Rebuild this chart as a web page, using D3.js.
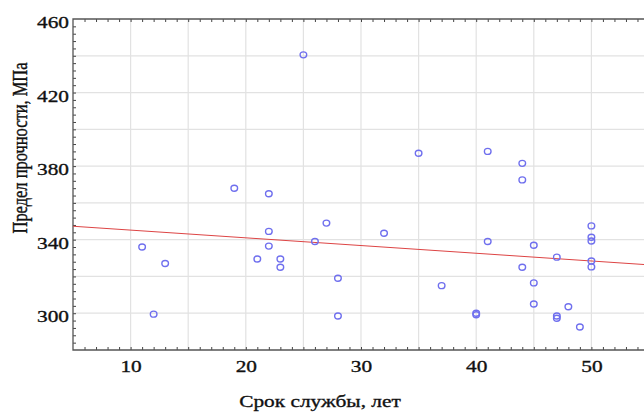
<!DOCTYPE html>
<html>
<head>
<meta charset="utf-8">
<script src="https://cdn.jsdelivr.net/npm/d3@7"></script>
<style>
    body { margin: 0; background: #fff; }
    text { font-family: "Liberation Serif", "DejaVu Serif", serif; fill: #111; stroke: #111; stroke-width: 0.35px; }
</style>
</head>
<body>
<div id="chart"></div>
<script>
// Service life, years
const years = [11, 13, 12, 19, 22, 25, 35, 22, 22, 21, 23, 23, 26, 27, 28, 28, 32,
    41, 44, 44, 37, 40, 40, 41, 44, 45, 45, 45, 47, 47, 47, 48, 49, 50, 50, 50, 50, 50];
// Ultimate strength, MPa
const strength = [336, 327, 299.5, 368, 365, 440.5, 387, 344.5, 336.5, 329.5, 329.5, 325, 339, 349, 319, 298.5, 343.5,
    388, 381.5, 372.5, 315, 299.2, 300, 339, 325, 337, 316.5, 305, 330.5, 298.5, 297.3, 303.5, 292.5, 347.5, 341.3, 339.3, 328.4, 325.2];
// Fitted trend line, read at the plot edges
const trendX = [5, 55];
const trendY = [347.3, 326.3];

const yTicks = [300, 340, 380, 420, 460];
const xTicks = [10, 20, 30, 40, 50];

const W = 644, H = 412;
const margin = { left: 73, top: 19, bottom: 62 };
// the source picture is stretched sideways, so text is too
const stretch = 1.22;

const svg = d3.select('#chart').append('svg')
    .attr('width', W)
    .attr('height', H);

const x = d3.scaleLinear().domain([5, 55]).range([margin.left, margin.left + 576]);
const y = d3.scaleLinear().domain([280, 460]).range([H - margin.bottom, margin.top]);

const plotBottom = y(280), plotTop = y(460), plotRight = x(55);

svg.append('clipPath').attr('id', 'plot')
    .append('rect')
    .attr('x', margin.left).attr('y', plotTop)
    .attr('width', plotRight - margin.left).attr('height', plotBottom - plotTop);

// Grid
const grid = svg.append('g').attr('stroke', '#e2e2e2').attr('stroke-width', 1.2);
grid.selectAll('.gx')
    .data(d3.range(10, 55, 5))
    .enter().append('line')
    .attr('x1', d => x(d)).attr('x2', d => x(d))
    .attr('y1', plotTop).attr('y2', plotBottom);
grid.selectAll('.gy')
    .data(d3.range(300, 460, 20))
    .enter().append('line')
    .attr('y1', d => y(d)).attr('y2', d => y(d))
    .attr('x1', margin.left).attr('x2', plotRight);

// Inner ticks (minor every 1 year / 4 MPa)
const tickColor = '#444';
svg.append('g')
    .attr('transform', `translate(0,${plotBottom})`)
    .call(d3.axisTop(x).tickValues(d3.range(6, 55, 1)).tickSize(3).tickFormat(''))
    .call(g => g.select('.domain').remove())
    .selectAll('line').attr('stroke', tickColor);
svg.append('g')
    .attr('transform', `translate(0,${plotTop})`)
    .call(d3.axisBottom(x).tickValues(d3.range(6, 55, 1)).tickSize(3).tickFormat(''))
    .call(g => g.select('.domain').remove())
    .selectAll('line').attr('stroke', tickColor);
svg.append('g')
    .attr('transform', `translate(${margin.left},0)`)
    .call(d3.axisRight(y).tickValues(d3.range(284, 460, 4)).tickSize(3).tickFormat(''))
    .call(g => g.select('.domain').remove())
    .selectAll('line').attr('stroke', tickColor);

// Frame (left, top, bottom)
svg.append('path')
    .attr('d', `M${plotRight},${plotTop}H${margin.left}V${plotBottom}H${plotRight}`)
    .attr('fill', 'none')
    .attr('stroke', '#555')
    .attr('stroke-width', 1.3);

// Tick labels
svg.append('g')
    .attr('transform', `translate(${margin.left},0)`)
    .call(d3.axisLeft(y).tickValues(yTicks).tickSize(0).tickPadding(4))
    .call(g => g.select('.domain').remove())
    .selectAll('text')
    .style('font-size', '17.5px')
    .attr('x', -4 / stretch)
    .attr('y', -2)
    .attr('dy', '0.6em')
    .attr('transform', `scale(${stretch},1)`);

svg.append('g')
    .attr('transform', `translate(0,${plotBottom})`)
    .call(d3.axisBottom(x).tickValues(xTicks).tickSize(0).tickPadding(10))
    .call(g => g.select('.domain').remove())
    .selectAll('text')
    .style('font-size', '17.5px')
    .attr('transform', `scale(${stretch},1)`);

// Axis titles
svg.append('text')
    .attr('transform', `translate(320,407) scale(${stretch},1)`)
    .attr('text-anchor', 'middle')
    .style('font-size', '17.5px')
    .text('Срок службы, лет');

svg.append('text')
    .attr('transform', `translate(27,148) rotate(-90) scale(0.94,${stretch})`)
    .attr('text-anchor', 'middle')
    .style('font-size', '17.5px')
    .text('Предел прочности, МПа');

// Trend line
const plot = svg.append('g').attr('clip-path', 'url(#plot)');
plot.append('line')
    .attr('x1', x(trendX[0])).attr('y1', y(trendY[0]))
    .attr('x2', x(trendX[1])).attr('y2', y(trendY[1]))
    .attr('stroke', '#dd4444')
    .attr('stroke-width', 1);

// Points
plot.selectAll('.pt')
    .data(years.map((v, i) => [v, strength[i]]))
    .enter().append('ellipse')
    .attr('class', 'pt')
    .attr('cx', d => x(d[0]))
    .attr('cy', d => y(d[1]))
    .attr('rx', 3.3)
    .attr('ry', 3)
    .attr('fill', 'none')
    .attr('stroke', '#6f6fee')
    .attr('stroke-width', 1.4);
</script>
</body>
</html>
